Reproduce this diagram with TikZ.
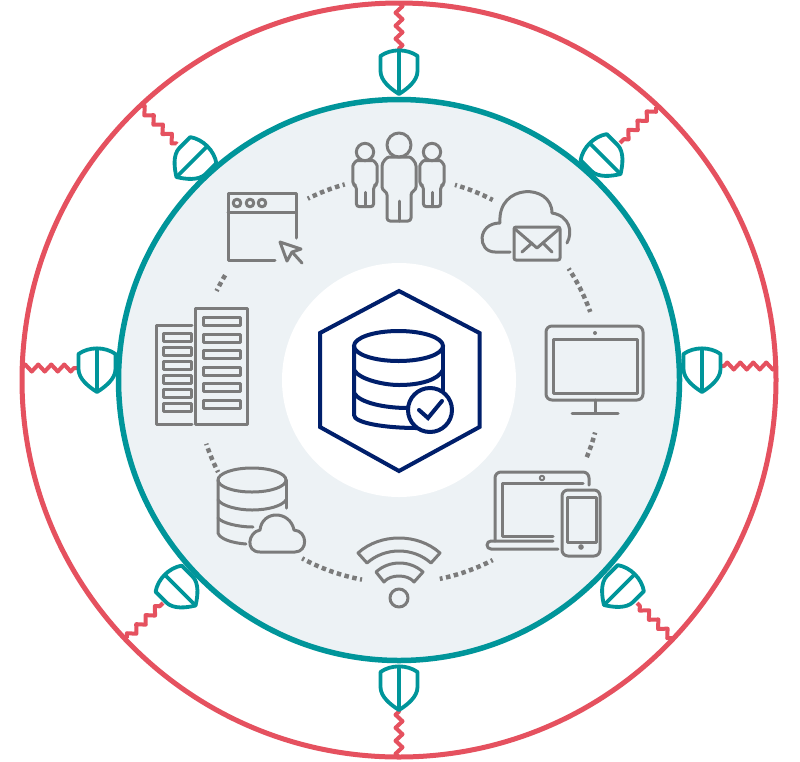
\documentclass[tikz,border=0pt]{standalone}
\usepackage{tikz}
\usetikzlibrary{decorations.pathmorphing}

\definecolor{ringred}{HTML}{E5515F}
\definecolor{ringteal}{HTML}{00959A}
\definecolor{panelgrey}{HTML}{EDF2F5}
\definecolor{icongrey}{HTML}{7B7B7B}
\definecolor{hubnavy}{HTML}{001F6B}

\begin{document}
\begin{tikzpicture}
[x=1pt,y=-1pt,line join=round]
\tikzset{
	icon/.style = {draw=icongrey, line width=3pt, line cap=round},
	hub/.style = {draw=hubnavy, line width=4pt, line join=miter},
	link/.style = {draw=icongrey, line width=4.5pt, dash pattern=on 4.5pt off 3.5pt, dash phase=2.5pt},
	spring/.style = {draw=ringred, line width=4pt, decorate, decoration={zigzag, segment length=13pt, amplitude=3.5pt}},
	shieldline/.style = {draw=ringteal, line width=3.8pt},
	person/.pic = {
		\draw [icon] (0,0) circle (12);
		\draw [icon, rounded corners=3pt] (-12,47) -- (-17,45) -- (-17,24) .. controls (-17,17) and (-12,12) .. (-7,12) -- (7,12) .. controls (12,12) and (17,17) .. (17,24) -- (17,45) -- (12,47) -- (12,76) -- (-12,76) -- cycle;
		\draw [icon] (0,56) -- (0,76);
	},
	shield/.pic = {
		\draw [shieldline, fill=white] (-18.5,-16) .. controls (-8,-23.5) and (8,-23.5) .. (18.5,-16) -- (18.5,-1) .. controls (18.5,9) and (8,17) .. (0,22) .. controls (-8,17) and (-18.5,9) .. (-18.5,-1) -- cycle;
		\draw [shieldline] (0,-22) -- (0,22);
	}
}
\useasboundingbox (0,0) rectangle (800,761);

\coordinate (center) at (399,380);
\fill [white] (0,0) rectangle (800,761);
\draw [draw=ringred, line width=5pt] (center) circle (377);
\draw [draw=ringteal, line width=5.5pt, fill=panelgrey] (center) circle (280.5);
\fill [white] (center) circle (117);

% springs between the outer ring and the shields
\foreach \name/\xa/\ya/\xb/\yb in {
	top/399/3/399/49, right/776/366/722/366, bottom/399/757/399/711, left/22/368/77/368,
	upleft/140/106/177/144, upright/656/107/620/143, lowright/672/638/637/603, lowleft/127/638/163/603}{
	\coordinate (ring-\name) at (\xa,\ya);
	\coordinate (guard-\name) at (\xb,\yb);
	\draw [spring] (ring-\name) -- (guard-\name);
}

\foreach \x/\y/\r in {399/72/0, 702/370/0, 399/688/0, 97/370/0, 192/161.5/-45, 605/158.5/45, 619.5/589.5/-45, 180/590/45}{
	\pic [shift={(\x,\y)}, rotate=\r] {shield};
}

% dotted links between the icons
\foreach \a/\b in {74/62.5, 33.3/19.6, -15/-23, -62.5/-78.4, -100.5/-118.5, 207/198.3, 154/148, 116.7/105.5}{
	\draw [link] ([shift={(-\a:203)}]center) arc [start angle=\a, end angle=\b, radius=203pt];
}

% hub
\draw [hub] (399,291) -- (479.5,333) -- (479.5,427) -- (399,471) -- (320,427) -- (320,333) -- cycle;
\draw [hub] (398.5,346) ellipse (44.5 and 15);
\draw [hub] (354,346) -- (354,415) .. controls (354,423) and (385,428) .. (417,428);
\draw [hub] (443,346) -- (443,392);
\draw [hub] (354,370) .. controls (360,380) and (385,385) .. (399,385) .. controls (420,385) and (438,380) .. (443,370);
\draw [hub] (354,393) .. controls (360,403) and (385,408) .. (408,408);
\draw [hub, fill=white] (430,410) circle (22);
\draw [hub, line cap=round] (419,410) -- (428,418) -- (442,401);

% people
\pic [shift={(399,145)}] {person};
\pic [shift={(365,152)}, scale=0.72] {person};
\pic [shift={(432,152)}, scale=0.72] {person};

% cloud and mail
\draw [icon] (510,252) -- (495,252) .. controls (477,252) and (477,223) .. (500,223) .. controls (497,183) and (552,183) .. (552,213) .. controls (570,216) and (573,232) .. (567,243);
\draw [icon, rounded corners=2pt] (514,227) rectangle (560,260);
\draw [icon] (515,229) -- (537,248) -- (559,229);
\draw [icon] (522,252) -- (532,243);
\draw [icon] (543,243) -- (552,252);

% monitor
\draw [icon, rounded corners=6pt] (546,326) rectangle (643,400);
\draw [icon] (553,339) rectangle (637,393);
\fill [icongrey] (595,333) circle (2);
\draw [icon] (595,400) -- (595,413);
\draw [icon] (572,413) -- (618,413);

% laptop and phone
\draw [icon, rounded corners=6pt] (589,485) -- (589,472) -- (495,472) -- (495,541);
\draw [icon] (583,483) -- (502,483) -- (502,536) -- (553,536);
\draw [icon, rounded corners=4pt] (553,541) -- (487,541) -- (487,549) -- (558,549);
\draw [icon, line width=2pt] (542,478) circle (2.2);
\draw [icon, rounded corners=6pt] (562,490) rectangle (600,556);
\draw [icon] (567,497) rectangle (596,542);
\fill [icongrey] (581,547) circle (2.8);

% wifi
\draw [icon] (358,553) .. controls (380,533) and (418,533) .. (440,553) -- (431,563) .. controls (413,547) and (385,547) .. (367,563) -- cycle;
\draw [icon] (376,572) .. controls (389,560) and (410,560) .. (423,572) -- (414,582) .. controls (408,574) and (390,574) .. (384,582) -- cycle;
\draw [icon] (399,598) circle (9);

% database and cloud
\draw [icon] (252,480) ellipse (34 and 12);
\draw [icon] (286,480) -- (286,508);
\draw [icon] (218,480) -- (218,533) .. controls (220,539) and (232,543) .. (246,544);
\draw [icon] (218,500) .. controls (222,506) and (238,510) .. (252,510) .. controls (268,510) and (282,506) .. (286,500);
\draw [icon] (218,518) .. controls (222,523) and (238,527) .. (253,527);
\draw [icon] (260,552) -- (295,552) .. controls (308,552) and (308,531) .. (294,530) .. controls (290,510) and (262,510) .. (260,530) .. controls (248,532) and (245,552) .. (260,552) -- cycle;

% servers
\draw [icon] (195,308) rectangle (247,424);
\foreach \y in {317,334,350.5,367,383.5,400}{
	\draw [icon] (203,\y) rectangle (240,\y+8);
}
\draw [icon] (192,325) -- (156,325) -- (156,424) -- (192,424);
\foreach \y in {333,347,361,375,389,403}{
	\draw [icon] (163,\y) rectangle (191,\y+8);
}

% window and cursor
\draw [icon] (296,238) -- (296,193) -- (228,193) -- (228,260) -- (275,260);
\draw [icon] (228,212) -- (296,212);
\foreach \x in {237,250,262}{
	\draw [icon] (\x,203) circle (3.8);
}
\draw [icon] (280,242) -- (287,261) -- (292,252) -- (301,249) -- cycle;
\draw [icon] (293,253) -- (302,263);
\end{tikzpicture}
\end{document}
